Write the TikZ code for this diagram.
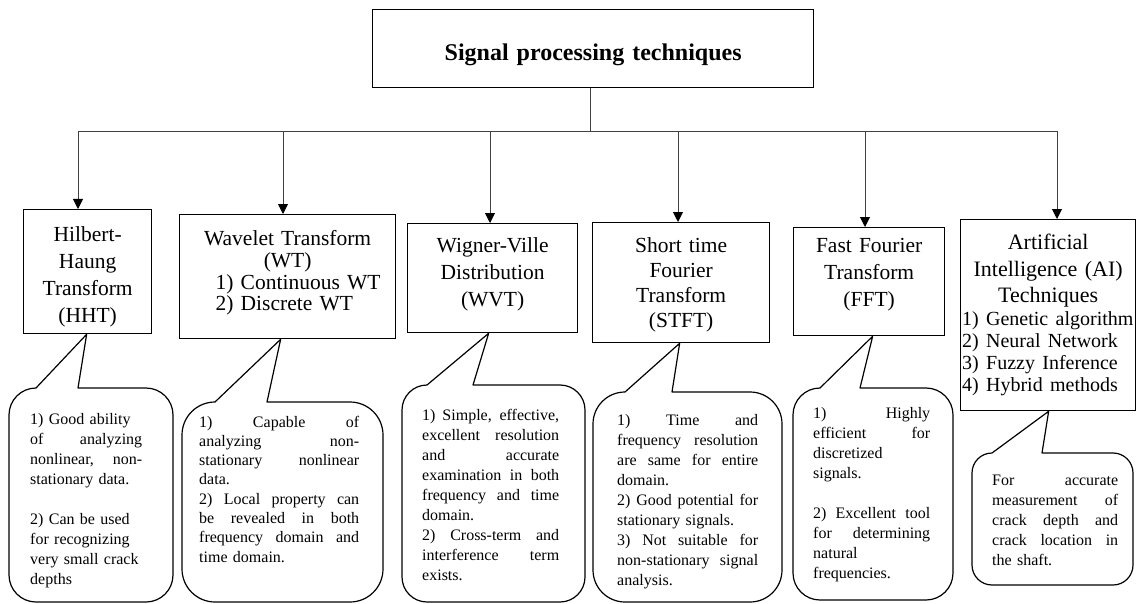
\documentclass[tikz,border=0pt]{standalone}
\usepackage{fontspec}
\setmainfont{Liberation Serif}
\usetikzlibrary{arrows.meta}

% a fully justified line of a bubble text, #1 wide: the word gaps share the free room
\newcommand\jline[2]{\leavevmode\hbox to #1{\spaceskip=0.25em plus 1fil\relax #2}}

% rounded speech-bubble: left, top, right, bottom, corner radius, tip coordinate, right foot of the pointer
\newcommand\callout[7]{%
  \draw[bubble] ({#1+#5},#2) -- (#6) -- (#7,#2) -- ({#3-#5},#2)
    .. controls ({#3-0.448*#5},#2) and (#3,{#2+0.448*#5}) .. (#3,{#2+#5})
    -- (#3,{#4-#5})
    .. controls (#3,{#4-0.448*#5}) and ({#3-0.448*#5},#4) .. ({#3-#5},#4)
    -- ({#1+#5},#4)
    .. controls ({#1+0.448*#5},#4) and (#1,{#4-0.448*#5}) .. (#1,{#4-#5})
    -- (#1,{#2+#5})
    .. controls (#1,{#2+0.448*#5}) and ({#1+0.448*#5},#2) .. ({#1+#5},#2) -- cycle;}

\begin{document}
\setlength\lineskiplimit{-50pt}
\begin{tikzpicture}[x=1pt,y=-1pt,
  box/.style={draw, line width=1.3pt, inner sep=0pt, anchor=north west, align=center,
    font=\fontsize{21.5}{27}\selectfont},
  note/.style={inner sep=0pt, anchor=base west,
    font=\fontsize{16}{20}\selectfont},
  bubble/.style={draw, line width=1.2pt, line join=round},
  wire/.style={draw=black!75, line width=0.9pt},
  arr/.style={wire, -{Triangle[length=10pt,width=10pt,fill=black,color=black]}}]
\useasboundingbox (0,0) rectangle (1137,604);

% heading
\node[box, font=\fontsize{24}{28}\selectfont\bfseries, text width=441pt,
  text height=51pt, text depth=27pt] (title) at (372,9) {Signal processing techniques};

% the six techniques
\node[box, text width=128pt, text height=32pt, text depth=92pt] (hht) at (23,209)
  {Hilbert-\\Haung\\Transform\\(HHT)};
\node[box, font=\fontsize{21.5}{21.7}\selectfont,
  text width=216pt, text height=31pt, text depth=93pt] (wt) at (179,214)
  {Wavelet Transform\\(WT)\\\makebox[144pt][l]{1) Continuous WT}\\\makebox[144pt][l]{2) Discrete WT}};
\node[box, text width=170pt, text height=29pt, text depth=80pt] (wvd) at (407,223)
  {Wigner-Ville\\Distribution\\(WVT)};
\node[box, font=\fontsize{21.5}{25}\selectfont,
  text width=177pt, text height=30pt, text depth=90pt] (stft) at (592,222)
  {Short time\\Fourier\\Transform\\(STFT)};
\node[box, text width=151pt, text height=25pt, text depth=83pt] (fft) at (793,227)
  {Fast Fourier\\Transform\\(FFT)};
\node[box, font=\fontsize{22}{26.5}\selectfont,
  text width=175pt, text height=30pt, text depth=161pt] (ai) at (960,219)
  {Artificial\\Intelligence (AI)\\Techniques\\[-3.5pt]
   {\fontsize{20}{22}\selectfont\makebox[172pt][l]{1) Genetic algorithm}}\\[-4.5pt]
   {\fontsize{20}{22}\selectfont\makebox[172pt][l]{2) Neural Network}}\\[-4.5pt]
   {\fontsize{20}{22}\selectfont\makebox[172pt][l]{3) Fuzzy Inference}}\\[-4.5pt]
   {\fontsize{20}{22}\selectfont\makebox[172pt][l]{4) Hybrid methods}}};

% distribution bus
\coordinate (hub) at (590,131);
\coordinate (b1) at (78,131);
\coordinate (b2) at (283,131);
\coordinate (b3) at (490,131);
\coordinate (b4) at (678,131);
\coordinate (b5) at (865,131);
\coordinate (b6) at (1057,131);
\draw[wire] (hub |- title.south) -- (hub);
\draw[wire] (b1) -- (b6);
\draw[arr] (b1) -- (b1 |- hht.north);
\draw[arr] (b2) -- (b2 |- wt.north);
\draw[arr] (b3) -- (b3 |- wvd.north);
\draw[arr] (b4) -- (b4 |- stft.north);
\draw[arr] (b5) -- (b5 |- fft.north);
\draw[arr] (b6) -- (b6 |- ai.north);

% pointer tips of the bubbles
\coordinate (hhtTip) at ([xshift=-1pt]hht.south);
\coordinate (wtTip) at ([xshift=-7pt]wt.south);
\coordinate (wvdTip) at ([xshift=-4pt]wvd.south);
\coordinate (stftTip) at ([xshift=-1.5pt]stft.south);
\coordinate (fftTip) at ([xshift=3.5pt]fft.south);
\coordinate (aiTip) at ([xshift=0.5pt]ai.south);

\callout{9}{388}{173}{602}{27}{hhtTip}{78}
\callout{182}{402}{383}{602}{33}{wtTip}{267}
\callout{402}{385}{585}{602}{25}{wvdTip}{473}
\callout{593}{392}{782}{602}{32}{stftTip}{672}
\callout{793}{388}{953}{600}{27}{fftTip}{860}
\callout{972}{453}{1133}{585}{20}{aiTip}{1042}

% bubble texts
\node[note, text width=112pt] (hhtNote) at (30,424)
  {1) Good ability\\
   \jline{112pt}{of analyzing}\\
   \jline{112pt}{nonlinear, non-}\\
   stationary data.\\[20pt]
   2) Can be used\\
   for recognizing\\
   very small crack\\
   depths};
\node[note, font=\fontsize{16}{19.3}\selectfont, text width=160pt] (wtNote) at (199,427)
  {\jline{160pt}{1) Capable of}\\
   \jline{160pt}{analyzing non-}\\
   \jline{160pt}{stationary nonlinear}\\
   data.\\
   \jline{160pt}{2) Local property can}\\
   \jline{160pt}{be revealed in both}\\
   \jline{160pt}{frequency domain and}\\
   time domain.};
\node[note, text width=137pt] (wvdNote) at (422,420)
  {\jline{137pt}{1) Simple, effective,}\\
   \jline{137pt}{excellent resolution}\\
   \jline{137pt}{and accurate}\\
   \jline{137pt}{examination in both}\\
   \jline{137pt}{frequency and time}\\
   domain.\\
   \jline{137pt}{2) Cross-term and}\\
   \jline{137pt}{interference term}\\
   exists.};
\node[note, text width=141pt] (stftNote) at (617,425)
  {\jline{141pt}{1) Time and}\\
   \jline{141pt}{frequency resolution}\\
   \jline{141pt}{are same for entire}\\
   domain.\\
   \jline{141pt}{2) Good potential for}\\
   stationary signals.\\
   \jline{141pt}{3) Not suitable for}\\
   \jline{141pt}{non-stationary signal}\\
   analysis.};
\node[note, text width=117pt] (fftNote) at (813,418)
  {\jline{117pt}{1) Highly}\\
   \jline{117pt}{efficient for}\\
   discretized\\
   signals.\\[20pt]
   \jline{117pt}{2) Excellent tool}\\
   \jline{117pt}{for determining}\\
   natural\\
   frequencies.};
\node[note, text width=126pt] (aiNote) at (992,485)
  {\jline{126pt}{For accurate}\\
   \jline{126pt}{measurement of}\\
   \jline{126pt}{crack depth and}\\
   \jline{126pt}{crack location in}\\
   the shaft.};
\end{tikzpicture}
\end{document}
